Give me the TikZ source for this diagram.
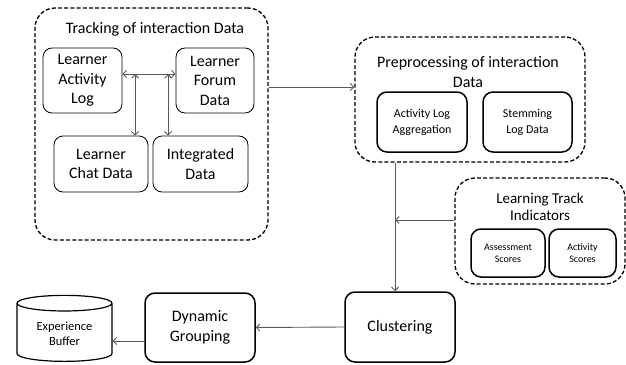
\documentclass[tikz,border=0pt]{standalone}
\usepackage{fontspec}
\setmainfont{Carlito}
\usepackage{tikz}
\usetikzlibrary{arrows,arrows.meta,shapes,positioning,calc}

\begin{document}
\begin{tikzpicture}[x=1pt, y=-1pt, >={Straight Barb[length=3.5pt,width=7pt]},
    grp/.style={draw, dashed, dash pattern=on 4pt off 2.2pt, line width=1.3pt, rounded corners=20pt},
    thin box/.style={draw, line width=0.8pt, rounded corners=9pt, align=center, font=\fontsize{16}{19.5}\selectfont},
    bold box/.style={draw, line width=1.5pt, rounded corners=10pt, align=center},
    link/.style={draw=black!65, line width=0.9pt}]
    \useasboundingbox (0,0) rectangle (626,364);

    % Tracking of interaction data
    \node[grp, minimum width=233pt, minimum height=232pt] (track) at (151.5, 124) {};
    \node[font=\fontsize{16}{19.5}\selectfont] (trackt) at (155, 29) {Tracking of interaction Data};
    \node[thin box, minimum width=79pt, minimum height=65pt] (act) at (82.5, 80.5) {Learner\\Activity\\Log};
    \node[thin box, minimum width=78pt, minimum height=65pt] (forum) at (215, 80.5) {Learner\\Forum\\Data};
    \node[thin box, minimum width=94pt, minimum height=56pt] (chat) at (101, 164) {Learner\\Chat Data};
    \node[thin box, minimum width=95pt, minimum height=56pt] (integ) at (200.5, 164) {Integrated\\Data};

    \coordinate (hl) at ([yshift=6.5pt]act.east);
    \coordinate (hr) at ([yshift=6.5pt]forum.west);
    \draw[link, <->] (hl) -- (hr);
    \draw[link, <->] ([xshift=34pt]chat.north) -- ([xshift=34pt]chat.north |- hl);
    \draw[link, <->] ([xshift=-32.5pt]integ.north) -- ([xshift=-32.5pt]integ.north |- hl);

    % Preprocessing
    \node[grp, minimum width=230pt, minimum height=125pt] (prep) at (470, 99.5) {};
    \node[font=\fontsize{16}{20}\selectfont, align=center] (prept) at (468, 72) {Preprocessing of interaction\\Data};
    \node[bold box, minimum width=90pt, minimum height=60pt, font=\fontsize{12}{16}\selectfont] (agg) at (422, 122) {Activity Log\\Aggregation};
    \node[bold box, minimum width=89pt, minimum height=60pt, font=\fontsize{12}{16}\selectfont] (stem) at (527.5, 122) {Stemming\\Log Data};

    \coordinate (pin) at ([yshift=12.5pt]prep.west);
    \draw[link, ->] (track.east |- pin) -- (pin);

    % Learning track indicators
    \node[grp, minimum width=170pt, minimum height=106pt] (lti) at (540, 231) {};
    \node[font=\fontsize{15}{17}\selectfont, align=center] (ltit) at (540, 206.5) {Learning Track\\Indicators};
    \node[bold box, minimum width=74pt, minimum height=48pt, font=\fontsize{10}{11.7}\selectfont] (assess) at (508, 253) {Assessment\\Scores};
    \node[bold box, minimum width=67pt, minimum height=48pt, font=\fontsize{10}{11.7}\selectfont] (actsc) at (582.5, 253) {Activity\\Scores};

    % Bottom row
    \node[bold box, minimum width=110pt, minimum height=70pt, font=\fontsize{16}{20}\selectfont] (clust) at (400, 327) {Clustering};
    \node[bold box, minimum width=110pt, minimum height=69pt, font=\fontsize{16}{20}\selectfont] (dyn) at (200, 327.5) {Dynamic\\Grouping};
    \node[cylinder, draw, line width=1.2pt, shape border rotate=90, aspect=0.25,
          minimum width=95pt, minimum height=66pt, align=center,
          font=\fontsize{12.5}{15}\selectfont] (buf) at (64.5, 334) {Experience\\Buffer};

    \coordinate (pout) at ([xshift=-75pt]prep.south);
    \draw[link, ->] (pout) -- (pout |- clust.north);
    \coordinate (lin) at ([yshift=11pt]lti.west);
    \draw[link, ->] (lin) -- (lin -| pout);
    \draw[link, ->] (clust.west) -- (dyn.east);
    \coordinate (dout) at ([yshift=-13.5pt]dyn.west);
    \draw[link, ->] (dout) -- (dout -| buf.east);
\end{tikzpicture}
\end{document}
